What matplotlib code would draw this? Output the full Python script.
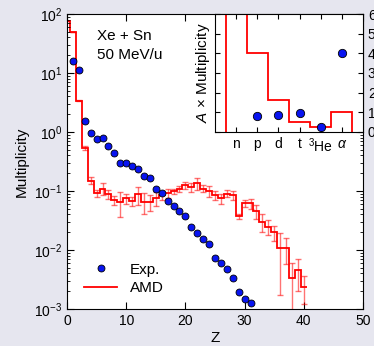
import numpy as np
import matplotlib
matplotlib.use('Agg')
import matplotlib.pyplot as plt

plt.rcParams['font.family'] = ['Liberation Sans', 'DejaVu Sans']
plt.rcParams['mathtext.fontset'] = 'custom'
plt.rcParams['mathtext.it'] = 'Liberation Sans:italic'
plt.rcParams['mathtext.rm'] = 'Liberation Sans'

# experimental multiplicity vs Z
exp_z = np.arange(1, 32)
exp_m = [16.2, 11.4, 1.55, 0.95, 0.76, 0.78, 0.57, 0.435, 0.30, 0.30,
         0.262, 0.233, 0.182, 0.164, 0.108, 0.0914, 0.0678, 0.0564, 0.0453, 0.0372,
         0.0248, 0.0192, 0.0152, 0.0125, 0.00723, 0.0061, 0.00471, 0.00331, 0.00192, 0.00146,
         0.00125]

# AMD histogram, one bin per Z (0..40)
amd_z = np.arange(0, 41)
amd_m = [77, 50, 3.4, 0.53, 0.15, 0.092, 0.11, 0.088, 0.071, 0.066,
         0.075, 0.068, 0.088, 0.066, 0.066, 0.075, 0.085, 0.092, 0.10, 0.11,
         0.125, 0.115, 0.135, 0.11, 0.10, 0.085, 0.075, 0.09, 0.085, 0.037,
         0.062, 0.062, 0.045, 0.030, 0.025, 0.020, 0.0107, 0.0107, 0.0033, 0.0045,
         0.0024]
amd_err = [0, 0, 0.1, 0.04, 0.02, 0.012, 0.025, 0.015, 0.012, 0.03,
           0.015, 0.012, 0.03, 0.025, 0.02, 0.02, 0.015, 0.015, 0.01, 0.012,
           0.015, 0.02, 0.03, 0.015, 0.02, 0.015, 0.015, 0.012, 0.015, 0.004,
           0.008, 0.012, 0.012, 0.01, 0.007, 0.006, 0.009, 0.005, 0.0028, 0.0025,
           0.0012]

# inset: light particles, A x multiplicity
lp_labels = ['n', 'p', 'd', 't', r'$^3$He', r'$\alpha$']
lp_exp = [np.nan, 0.83, 0.86, 0.98, 0.27, 4.03]
lp_amd = [12.0, 4.0, 1.65, 0.52, 0.25, 1.0]

fig = plt.figure(figsize=(3.74, 3.46), dpi=100)
fig.patch.set_facecolor('#e6e6ef')
ax = fig.add_axes([67/374, 1 - 309/346, 296/374, 295/346])

edges = np.append(amd_z - 0.5, amd_z[-1] + 0.5)
ax.errorbar(amd_z, amd_m, yerr=amd_err, fmt='none', ecolor='red', alpha=0.55,
            elinewidth=1.0, capsize=2, capthick=1.0)
ax.stairs(amd_m, edges, color='red', lw=1.3, baseline=None, label='AMD')
ax.plot(exp_z, exp_m, 'o', ms=5, mfc='#0814f0', mec='black', mew=0.6, label='Exp.')

ax.set_yscale('log')
ax.set_xlim(0, 50)
ax.set_ylim(1e-3, 1e2)
ax.set_xticks([0, 10, 20, 30, 40, 50])
ax.tick_params(which='both', direction='in', top=True, right=True, labelsize=10)
ax.tick_params(which='major', length=5)
ax.tick_params(which='minor', length=2.5)
ax.set_xlabel('Z', fontsize=11, labelpad=2)
ax.set_ylabel('Multiplicity', fontsize=11, labelpad=4)
ax.text(5, 55, 'Xe + Sn\n50 MeV/u', fontsize=11, va='top', linespacing=1.4)

h, l = ax.get_legend_handles_labels()
ax.legend([h[1], h[0]], [l[1], l[0]], loc='lower left', bbox_to_anchor=(0.01, 0.0),
          frameon=False, fontsize=11, handlelength=2.2, labelspacing=0.3)

# inset
ins = fig.add_axes([215/374, 1 - 132/346, 148/374, 118/346])
lp_x = np.arange(1, 7)
lp_edges = np.append(lp_x - 0.5, 6.5)
ins.stairs(lp_amd, lp_edges, color='red', lw=1.3, baseline=0)
ins.plot(lp_x, lp_exp, 'o', ms=6, mfc='#0814f0', mec='black', mew=0.6)
ins.set_xlim(0, 7)
ins.set_ylim(0, 6)
ins.set_xticks(lp_x)
ins.set_xticklabels(lp_labels)
ins.set_yticks(range(0, 7))
ins.yaxis.tick_right()
ins.tick_params(which='both', direction='in', top=True, left=True, right=True, labelsize=10)
ins.set_ylabel(r'$A$ $\times$ Multiplicity', fontsize=11, labelpad=2)
ins.yaxis.set_label_position('left')

fig.savefig('out.png', dpi=100, facecolor=fig.get_facecolor())
